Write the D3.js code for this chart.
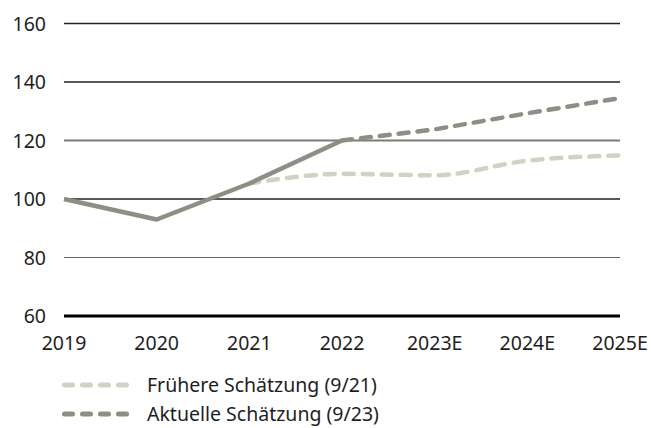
<!DOCTYPE html>
<html>
<head>
<meta charset="utf-8">
<script src="https://cdn.jsdelivr.net/npm/d3@7"></script>
<style>
  body { margin: 0; background: #fff; }
  text { font-family: "Noto Sans", sans-serif; fill: #1e1e1e; }
</style>
</head>
<body>
<svg id="chart" width="651" height="428"></svg>
<script>
// chart data
const years = ['2019', '2020', '2021', '2022', '2023E', '2024E', '2025E'];
const actualSolid = [100, 93, 105.3, 120];            // 2019..2022
const actualDashed = [120, 123.8, 129.3, 134.5];      // 2022..2025E
const earlierEst = [105.3, 108.6, 108.1, 113.1, 114.9]; // 2021..2025E
const yTicks = [60, 80, 100, 120, 140, 160];
const legendLabels = ['Frühere Schätzung (9/21)', 'Aktuelle Schätzung (9/23)'];

const darkCol = '#8e8e84';
const lightCol = '#d2d1c3';

const svg = d3.select('#chart');

const x = d3.scalePoint().domain(years).range([64, 620]);
const y = d3.scaleLinear().domain([60, 160]).range([316, 23.5]);

// gridlines
const gridStyle = {
  160: ['#222', 1.5], 140: ['#222', 1.5], 120: ['#7a7a7a', 2],
  100: ['#222', 1.5], 80: ['#666', 1.2], 60: ['#000', 3]
};
svg.append('g')
  .selectAll('line')
  .data(yTicks)
  .enter()
  .append('line')
  .attr('x1', 64).attr('x2', 620)
  .attr('y1', d => y(d)).attr('y2', d => y(d))
  .attr('stroke', d => gridStyle[d][0])
  .attr('stroke-width', d => gridStyle[d][1]);

// y axis labels
svg.append('g')
  .selectAll('text')
  .data(yTicks)
  .enter()
  .append('text')
  .attr('x', 46)
  .attr('y', d => y(d) + 7)
  .attr('text-anchor', 'end')
  .style('font-size', '19.5px')
  .text(d => d);

// x axis labels
svg.append('g')
  .selectAll('text')
  .data(years)
  .enter()
  .append('text')
  .attr('x', d => x(d))
  .attr('y', 350)
  .attr('text-anchor', 'middle')
  .style('font-size', '19.5px')
  .text(d => d);

const line = d3.line()
  .x(d => x(d.k))
  .y(d => y(d.v));

const toPts = (vals, offset) => vals.map((v, i) => ({k: years[i + offset], v: v}));

// earlier estimate (light, dashed, smooth)
svg.append('path')
  .datum(toPts(earlierEst, 2))
  .attr('d', line.curve(d3.curveMonotoneX))
  .attr('fill', 'none')
  .attr('stroke', lightCol)
  .attr('stroke-width', 4.5)
  .attr('stroke-linecap', 'round')
  .attr('stroke-dasharray', '10 9');

// current estimate dashed part
svg.append('path')
  .datum(toPts(actualDashed, 3))
  .attr('d', line.curve(d3.curveLinear))
  .attr('fill', 'none')
  .attr('stroke', darkCol)
  .attr('stroke-width', 4.5)
  .attr('stroke-linecap', 'round')
  .attr('stroke-dasharray', '10 9');

// actual (solid)
svg.append('path')
  .datum(toPts(actualSolid, 0))
  .attr('d', line.curve(d3.curveLinear))
  .attr('fill', 'none')
  .attr('stroke', darkCol)
  .attr('stroke-width', 4.5)
  .attr('stroke-linejoin', 'round');

// legend
const legend = svg.append('g')
  .selectAll('g')
  .data(legendLabels)
  .enter()
  .append('g')
  .attr('transform', (d, i) => 'translate(0,' + (385 + i * 29) + ')');

legend.append('line')
  .attr('x1', 64.5).attr('x2', 127.5)
  .attr('y1', 0).attr('y2', 0)
  .attr('stroke', (d, i) => i === 0 ? lightCol : darkCol)
  .attr('stroke-width', 5)
  .attr('stroke-linecap', 'round')
  .attr('stroke-dasharray', '8 10');

legend.append('text')
  .attr('x', 147)
  .attr('y', 7)
  .style('font-size', '19.5px')
  .text(d => d);
</script>
</body>
</html>
